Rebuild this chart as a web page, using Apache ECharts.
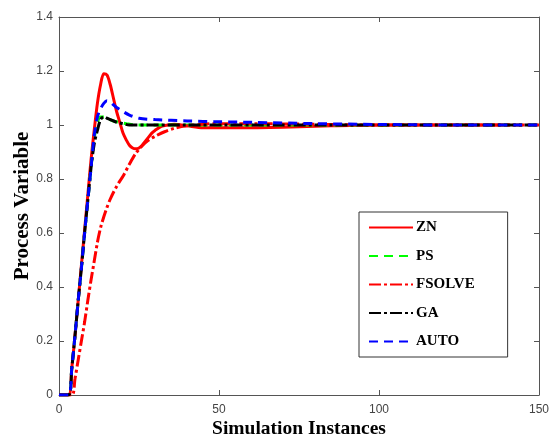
<!DOCTYPE html>
<html>
<head>
<meta charset="utf-8">
<script src="https://cdn.jsdelivr.net/npm/echarts@6/dist/echarts.min.js"></script>
<style>
  html, body { margin: 0; padding: 0; background: #fff; }
  #chart { width: 550px; height: 437px; }
</style>
</head>
<body>
<div id="chart"></div>
<script>
// Step responses of the process variable for each tuning method
const seriesNames = ['ZN', 'PS', 'FSOLVE', 'GA', 'AUTO'];

const znX = [0, 3, 4, 5, 6, 7, 8, 9, 10, 11, 12, 13, 14, 15, 16, 17, 18, 19, 20, 21, 22, 23, 24, 25, 26, 27, 28, 29, 30, 32, 34, 36, 40, 45, 55, 70, 85, 100, 120, 141];
const znY = [0, 0, 0.1, 0.22, 0.35, 0.48, 0.61, 0.74, 0.87, 0.98, 1.08, 1.15, 1.19, 1.185, 1.15, 1.1, 1.05, 1.01, 0.97, 0.945, 0.925, 0.915, 0.912, 0.915, 0.925, 0.94, 0.955, 0.97, 0.98, 0.995, 1.0, 1.003, 0.997, 0.99, 0.99, 0.992, 0.997, 1.0, 1.0, 1.0];

const psX = [0, 3, 4, 5, 6, 7, 8, 9, 10, 11, 12, 13, 14, 15, 17, 19, 21, 24, 40, 80, 150];
const psY = [0, 0, 0.1, 0.22, 0.35, 0.47, 0.6, 0.72, 0.84, 0.95, 1.01, 1.03, 1.03, 1.025, 1.015, 1.01, 1.005, 1.0, 1.0, 1.0, 1.0];

const fsX = [0, 4, 5, 6, 7, 8, 9, 10, 11, 12, 13, 14, 15, 16, 17, 18, 19, 20, 22, 24, 26, 28, 30, 33, 36, 40, 45, 50, 70, 100, 150];
const fsY = [0, 0, 0.06, 0.13, 0.2, 0.27, 0.35, 0.425, 0.495, 0.565, 0.62, 0.66, 0.695, 0.725, 0.75, 0.772, 0.792, 0.81, 0.855, 0.895, 0.923, 0.944, 0.958, 0.975, 0.988, 0.997, 1.003, 1.005, 1.004, 1.0, 1.0];

const gaX = [0, 3, 4, 5, 6, 7, 8, 9, 10, 11, 12, 13, 14, 15, 16, 18, 20, 22, 40, 80, 150];
const gaY = [0, 0, 0.1, 0.22, 0.35, 0.47, 0.6, 0.72, 0.84, 0.93, 0.98, 1.02, 1.03, 1.025, 1.02, 1.01, 1.005, 1.0, 1.0, 1.0, 1.0];

const autoX = [0, 3, 4, 5, 6, 7, 8, 9, 10, 11, 12, 13, 14, 15, 16, 17, 18, 20, 22, 25, 30, 40, 50, 60, 80, 100, 120, 150];
const autoY = [0, 0, 0.1, 0.22, 0.35, 0.47, 0.6, 0.72, 0.84, 0.96, 1.03, 1.06, 1.08, 1.09, 1.085, 1.075, 1.065, 1.05, 1.037, 1.025, 1.02, 1.015, 1.012, 1.01, 1.005, 1.002, 1.0, 1.0];

const xTicks = [0, 50, 100, 150];
const yTicks = [0, 0.2, 0.4, 0.6, 0.8, 1, 1.2, 1.4];

const pairs = (xs, ys) => xs.map((x, i) => [x, ys[i]]);

const styles = {
  ZN:     { color: '#ff0000', type: 'solid' },
  PS:     { color: '#00ff00', type: [9, 6] },
  FSOLVE: { color: '#ff0000', type: [12, 3, 3, 3] },
  GA:     { color: '#000000', type: [12, 3, 3, 3] },
  AUTO:   { color: '#0000ff', type: [9, 6] }
};
const dataMap = {
  ZN: pairs(znX, znY),
  PS: pairs(psX, psY),
  FSOLVE: pairs(fsX, fsY),
  GA: pairs(gaX, gaY),
  AUTO: pairs(autoX, autoY)
};

const tickFont = { fontFamily: 'Liberation Sans, Arial, sans-serif', fontSize: 12, color: '#444' };
const serif = 'Liberation Serif, Times New Roman, serif';
const frameLine = { show: true, onZero: false, lineStyle: { color: '#555', width: 1 } };
const innerTick = { show: true, inside: true, length: 5, lineStyle: { color: '#555' } };

const chart = echarts.init(document.getElementById('chart'), null, { renderer: 'canvas' });
chart.setOption({
  backgroundColor: '#fff',
  animation: false,
  grid: { left: 59, right: 11, top: 17, bottom: 42, containLabel: false, outerBoundsMode: 'none' },
  legend: {
    orient: 'vertical',
    left: 359,
    top: 212,
    data: seriesNames,
    itemWidth: 44,
    itemHeight: 14,
    itemGap: 13.5,
    padding: [8, 33, 8, 9],
    borderColor: '#333',
    borderWidth: 1,
    backgroundColor: '#fff',
    // hide the marker glyph so only the line sample shows
    itemStyle: { color: 'transparent', borderColor: 'transparent', borderWidth: 0, opacity: 0 },
    textStyle: { fontFamily: serif, fontSize: 15, fontWeight: 'bold', color: '#000', padding: [0, 0, 0, -2] }
  },
  xAxis: [
    {
      type: 'value', min: 0, max: 150, interval: 50, position: 'bottom',
      name: 'Simulation Instances', nameLocation: 'middle', nameGap: 24, nameMoveOverlap: false,
      nameTextStyle: { fontFamily: serif, fontSize: 19.5, fontWeight: 'bold', color: '#000' },
      axisLine: frameLine,
      axisTick: innerTick,
      axisLabel: Object.assign({ margin: 9, customValues: xTicks }, tickFont),
      splitLine: { show: false }
    },
    {
      type: 'value', min: 0, max: 150, interval: 50, position: 'top',
      axisLine: frameLine,
      axisTick: innerTick,
      axisLabel: { show: false },
      splitLine: { show: false }
    }
  ],
  yAxis: [
    {
      type: 'value', min: 0, max: 1.4, interval: 0.2, position: 'left',
      name: 'Process Variable', nameLocation: 'middle', nameGap: 26, nameMoveOverlap: false,
      nameTextStyle: { fontFamily: serif, fontSize: 21, fontWeight: 'bold', color: '#000' },
      axisLine: frameLine,
      axisTick: innerTick,
      axisLabel: Object.assign({ margin: 6, customValues: yTicks }, tickFont),
      splitLine: { show: false }
    },
    {
      type: 'value', min: 0, max: 1.4, interval: 0.2, position: 'right',
      axisLine: frameLine,
      axisTick: innerTick,
      axisLabel: { show: false },
      splitLine: { show: false }
    }
  ],
  series: seriesNames.map(name => ({
    name: name,
    type: 'line',
    xAxisIndex: 0,
    yAxisIndex: 0,
    data: dataMap[name],
    showSymbol: false,
    symbol: 'none',
    smooth: 0.3,
    color: styles[name].color,
    lineStyle: { color: styles[name].color, width: 3, type: styles[name].type }
  }))
});
</script>
</body>
</html>
